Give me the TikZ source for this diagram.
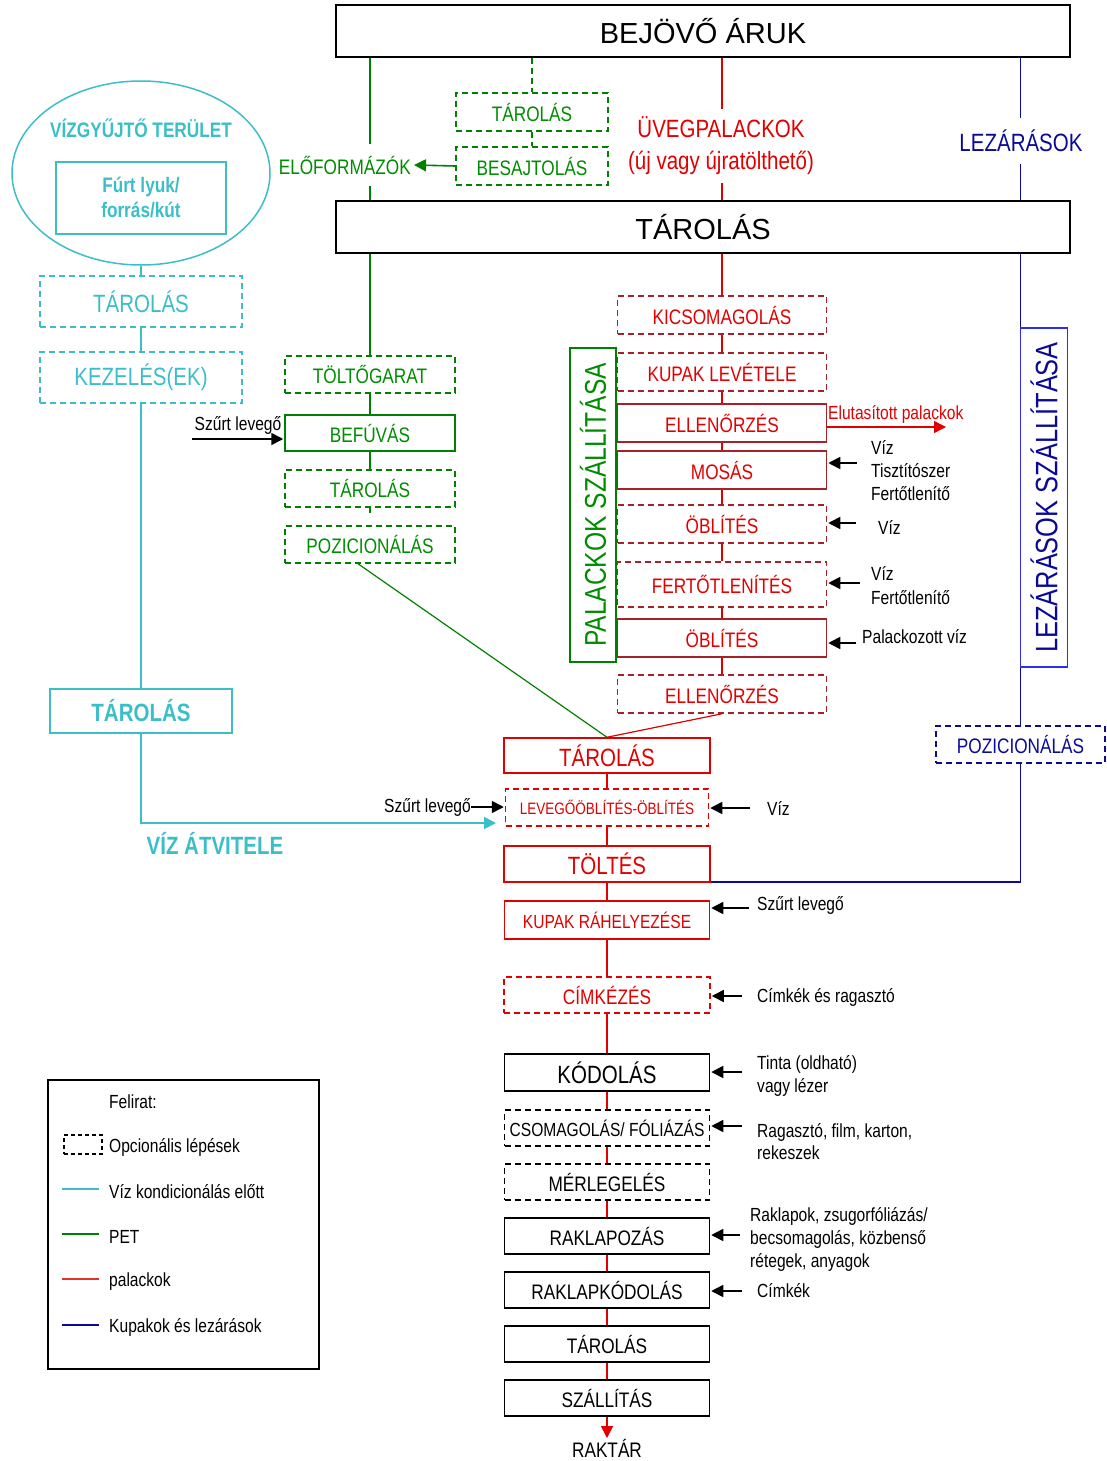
\documentclass[tikz,border=0pt]{standalone}
\usepackage{fontspec}
\setmainfont{Liberation Sans}[FakeStretch=0.82]
\newfontfamily\widefont{Liberation Sans}
\usetikzlibrary{arrows.meta,shapes.geometric,calc}
\definecolor{cy}{RGB}{60,190,200}
\definecolor{gr}{RGB}{0,128,0}
\definecolor{grt}{RGB}{0,140,0}
\definecolor{rd}{RGB}{225,0,0}
\definecolor{drd}{RGB}{165,35,40}
\definecolor{nv}{RGB}{10,10,150}
\definecolor{bb}{RGB}{45,45,240}
\newcommand\fsz[2]{\fontsize{#1}{#2}\selectfont}
\begin{document}
\begin{tikzpicture}[x=1pt,y=-1pt,
  box/.style={draw, line width=1.5pt, inner sep=0pt, font=\fsz{21}{25}},
  dsh/.style={dash pattern=on 6pt off 4pt},
  bigbox/.style={draw=black, line width=2pt, inner sep=0pt, minimum width=734pt, minimum height=52pt, font=\widefont\fsz{29}{33}},
  cbox/.style={box, draw=cy, text=cy},
  gbox/.style={box, draw=gr, text=grt, minimum width=170pt},
  gbox2/.style={box, draw=gr, text=grt, minimum width=152pt, minimum height=38pt},
  pbox/.style={box, draw=drd, text=rd, minimum width=209pt, minimum height=38pt},
  rbox/.style={box, draw=rd, text=rd},
  kbox/.style={box, draw=black, text=black, minimum width=205pt, minimum height=36pt},
  cline/.style={draw=cy, line width=1.5pt},
  gline/.style={draw=gr, line width=1.5pt},
  rline/.style={draw=rd, line width=1.5pt},
  bline/.style={draw=nv, line width=1.5pt},
  tip/.style={-{Triangle[length=12pt,width=12pt]}},
  arr/.style={draw=black, line width=1.6pt, tip, shorten >=1pt},
  lab/.style={inner sep=0pt, text=black, font=\fsz{19}{23}, align=left},
]
\useasboundingbox (0,0) rectangle (1107,1461);

% ---------- top boxes
\node[bigbox] (bej) at (703,31) {BEJÖVŐ ÁRUK};
\node[bigbox] (tar1) at (703,227) {TÁROLÁS};

% ---------- cyan (water) column
\node[ellipse, draw=cy, line width=1.5pt, minimum width=258pt, minimum height=184pt, inner sep=0pt] (ell) at (141,173) {};
\node[inner sep=0pt, text=cy, font=\bfseries\fsz{21}{25}] (vgt) at (141,128) {VÍZGYŰJTŐ TERÜLET};
\node[cbox, minimum width=170pt, minimum height=72pt, align=center, font=\bfseries\fsz{21}{25}] (furt) at (141,198) {Fúrt lyuk/\\forrás/kút};
\node[cbox, dsh, minimum width=202pt, minimum height=51pt, font=\fsz{25}{29}] (tarc1) at (141,301.5) {TÁROLÁS};
\node[cbox, dsh, minimum width=202pt, minimum height=51pt, font=\fsz{25}{29}] (kez) at (141,377.5) {KEZELÉS(EK)};
\node[cbox, minimum width=182pt, minimum height=44pt, font=\bfseries\fsz{25}{29}] (tarc2) at (141,711) {TÁROLÁS};
\node[inner sep=0pt, text=cy, font=\bfseries\fsz{25}{29}] (vat) at (215,843) {VÍZ ÁTVITELE};
\coordinate (vend) at (496,823);

% ---------- green top
\node[gbox2, dsh] (targ1) at (532,112) {TÁROLÁS};
\node[gbox2, dsh] (besa) at (532,166) {BESAJTOLÁS};

% ---------- green column
\node[gbox, dsh, minimum height=37pt] (tolto) at (370,374.5) {TÖLTŐGARAT};
\node[gbox, minimum height=36pt] (befu) at (370,433) {BEFÚVÁS};
\node[gbox, dsh, minimum height=37pt] (targ) at (370,488.5) {TÁROLÁS};
\node[gbox, dsh, minimum height=37pt] (pozg) at (370,544.5) {POZICIONÁLÁS};
\coordinate (stub) at (370,513);

% ---------- bottles column
\node[pbox, dsh] (kics) at (722,315) {KICSOMAGOLÁS};
\node[pbox, dsh] (kupl) at (722,372) {KUPAK LEVÉTELE};
\node[pbox] (ell1) at (722,423) {ELLENŐRZÉS};
\node[pbox] (mos) at (722,470) {MOSÁS};
\node[pbox, dsh] (obl1) at (722,524) {ÖBLÍTÉS};
\node[pbox, dsh, minimum height=45pt] (fert) at (722,584.5) {FERTŐTLENÍTÉS};
\node[pbox] (obl2) at (722,638) {ÖBLÍTÉS};
\node[pbox, dsh] (ell2) at (722,694) {ELLENŐRZÉS};
\node[draw=gr, line width=1.5pt, rotate=90, minimum width=314pt, minimum height=46pt, inner sep=0pt, text=grt, font=\fsz{30}{34}] (pal) at (593,505) {PALACKOK SZÁLLÍTÁSA};

% ---------- closures
\node[box, dsh, draw=nv, text=nv, minimum width=169pt, minimum height=37pt] (pozb) at (1020.5,744.5) {POZICIONÁLÁS};

% ---------- main bottom column
\node[rbox, minimum width=206pt, minimum height=35pt, font=\fsz{25}{29}] (tar2) at (607,755.5) {TÁROLÁS};
\node[rbox, dsh, minimum width=203pt, minimum height=37pt, font=\fsz{16.5}{20}] (lev) at (607,807.5) {LEVEGŐÖBLÍTÉS-ÖBLÍTÉS};
\node[rbox, minimum width=206pt, minimum height=36pt, font=\fsz{25}{29}] (tolt) at (607,864) {TÖLTÉS};
\node[rbox, minimum width=205pt, minimum height=38pt, font=\fsz{19}{23}] (kupr) at (607,920) {KUPAK RÁHELYEZÉSE};
\node[rbox, dsh, minimum width=206pt, minimum height=36pt] (cimk) at (607,995) {CÍMKÉZÉS};
\node[kbox, minimum height=37pt, font=\fsz{25}{29}] (kod) at (607,1072.5) {KÓDOLÁS};
\node[kbox, dsh, font=\fsz{19}{23}] (csom) at (607,1128) {CSOMAGOLÁS/ FÓLIÁZÁS};
\node[kbox, dsh] (merl) at (607,1182) {MÉRLEGELÉS};
\node[kbox] (rakl) at (607,1236) {RAKLAPOZÁS};
\node[kbox] (raklk) at (607,1290) {RAKLAPKÓDOLÁS};
\node[kbox] (tar3) at (607,1344) {TÁROLÁS};
\node[kbox] (szall) at (607,1398) {SZÁLLÍTÁS};
\coordinate (rend) at (607,1438);
\node[inner sep=0pt, font=\fsz{21}{25}] (rakt) at (607,1448) {RAKTÁR};

% ---------- connectors
\draw[gline] (bej.south -| tolto.north) -- (tar1.north -| tolto.north);
\draw[gline, dsh] (bej.south -| targ1.north) -- (targ1.north);
\draw[gline, dsh] (targ1.south) -- (besa.north);
\draw[rline] (bej.south -| kics.north) -- (tar1.north -| kics.north);
\draw[bline] (bej.south -| pozb.north) -- (tar1.north -| pozb.north);
\draw[gline] (tar1.south -| tolto.north) -- (tolto.north);
\draw[gline] (tolto.south) -- (befu.north);
\draw[gline] (befu.south) -- (targ.north);
\draw[gline] (targ.south) -- (stub);
\draw[draw=gr, line width=1.2pt] ([xshift=-12pt]pozg.south) -- (tar2.north);
\draw[rline] (tar1.south -| kics.north) -- (kics.north);
\draw[rline] (kics.south) -- (kupl.north);
\draw[rline] (kupl.south) -- (ell1.north);
\draw[rline] (ell1.south) -- (mos.north);
\draw[rline] (mos.south) -- (obl1.north);
\draw[rline] (obl1.south) -- (fert.north);
\draw[rline] (fert.south) -- (obl2.north);
\draw[rline] (obl2.south) -- (ell2.north);
\draw[draw=rd, line width=1.2pt] (ell2.south) -- (tar2.north);
\draw[bline] (tar1.south -| pozb.north) -- (pozb.north);
\node[draw=bb, line width=1.5pt, rotate=90, minimum width=339pt, minimum height=47pt, inner sep=0pt, text=nv, font=\fsz{31}{35}] (lsz) at (1044,497.5) {LEZÁRÁSOK SZÁLLÍTÁSA};
\draw[bline] (pozb.south) |- ([yshift=1pt]tolt.south east);
\draw[cline] (ell.south) -- (tarc1.north);
\draw[cline] (tarc1.south) -- (kez.north);
\draw[cline] (kez.south) -- (tarc2.north);
\draw[cline, tip] (tarc2.south) |- (vend);
\draw[rline] (tar2.south) -- (lev.north);
\draw[rline] (lev.south) -- (tolt.north);
\draw[rline] (tolt.south) -- (kupr.north);
\draw[rline] (kupr.south) -- (cimk.north);
\draw[rline] (cimk.south) -- (kod.north);
\draw[rline] (kod.south) -- (csom.north);
\draw[rline] (csom.south) -- (merl.north);
\draw[rline] (merl.south) -- (rakl.north);
\draw[rline] (rakl.south) -- (raklk.north);
\draw[rline] (raklk.south) -- (tar3.north);
\draw[rline] (tar3.south) -- (szall.north);
\draw[rline, tip] (szall.south) -- (rend);

% ---------- labels over lines
\node[anchor=east, fill=white, inner xsep=3pt, inner ysep=12pt, text=grt, font=\fsz{21}{25}] (elof) at (414,165) {ELŐFORMÁZÓK};
\draw[draw=gr, line width=1.6pt, tip] (besa.west) -- (elof.east);
\node[fill=white, inner xsep=2pt, inner ysep=8pt, align=center, text=rd, font=\fsz{25}{32}] (uveg) at (721,146) {ÜVEGPALACKOK\\(új vagy újratölthető)};
\node[fill=white, inner xsep=2pt, inner ysep=12pt, text=nv, font=\fsz{25}{29}] (lez) at (1021,141) {LEZÁRÁSOK};

% ---------- side inputs
\node[lab] (szl1) at (238,425) {Szűrt levegő};
\coordinate (t1) at (192,439);
\draw[arr] (t1) -- (t1 -| befu.west);

\coordinate (rej) at (946,427);
\draw[draw=rd, line width=1.5pt, tip] (ell1.east |- rej) -- (rej);
\node[anchor=west, inner sep=0pt, text=rd, font=\fsz{19}{23}] (elut) at (828,414) {Elutasított palackok};

\coordinate (m1) at (857,463);
\draw[arr] (m1) -- (m1 -| mos.east);
\node[lab, anchor=west] (mosl) at (871,471) {Víz\\Tisztítószer\\Fertőtlenítő};
\coordinate (o1) at (856,523);
\draw[arr] (o1) -- (o1 -| obl1.east);
\node[lab, anchor=west] (o1l) at (878,527) {Víz};
\coordinate (f1) at (860,583);
\draw[arr] (f1) -- (f1 -| fert.east);
\node[lab, anchor=west, font=\fsz{19}{24}] (f1l) at (871,586) {Víz\\Fertőtlenítő};
\coordinate (o2) at (856,643);
\draw[arr] (o2) -- (o2 -| obl2.east);
\node[lab, anchor=west] (o2l) at (862,637) {Palackozott víz};

\node[lab, anchor=east] (szl2) at (471,807) {Szűrt levegő};
\draw[arr] (szl2.east) -- (szl2.east -| lev.west);
\coordinate (lv) at (750,808);
\draw[arr] (lv) -- (lv -| lev.east);
\node[lab, anchor=west] (lvl) at (767,808) {Víz};

\coordinate (kr) at (749,908);
\draw[arr] (kr) -- (kr -| kupr.east);
\node[lab, anchor=west] (krl) at (757,905) {Szűrt levegő};

\coordinate (ck) at (742,996);
\draw[arr] (ck) -- (ck -| cimk.east);
\node[lab, anchor=west] (ckl) at (757,997) {Címkék és ragasztó};

\coordinate (kd) at (742,1072);
\draw[arr] (kd) -- (kd -| kod.east);
\node[lab, anchor=west] (kdl) at (757,1075.5) {Tinta (oldható)\\vagy lézer};

\coordinate (cs) at (742,1126);
\draw[arr] (cs) -- (cs -| csom.east);
\node[lab, anchor=west, font=\fsz{19}{22}] (csl) at (757,1142) {Ragasztó, film, karton,\\rekeszek};

\coordinate (rk) at (740,1235);
\draw[arr] (rk) -- (rk -| rakl.east);
\node[lab, anchor=west] (rkl) at (750,1239) {Raklapok, zsugorfóliázás/\\becsomagolás, közbenső\\rétegek, anyagok};

\coordinate (rkk) at (742,1291);
\draw[arr] (rkk) -- (rkk -| raklk.east);
\node[lab, anchor=west] (rkkl) at (757,1291) {Címkék};

% ---------- legend
\node[draw=black, line width=1.5pt, minimum width=271pt, minimum height=289pt, inner sep=0pt] (leg) at (183.5,1224.5) {};
\node[lab, anchor=west] (legt) at (109,1102) {Felirat:};
\node[draw=black, line width=1.2pt, dash pattern=on 4pt off 3pt, minimum width=38pt, minimum height=19pt, inner sep=0pt] (legd) at (83,1144.5) {};
\node[lab, anchor=west] (leg1) at (109,1147) {Opcionális lépések};
\node[lab, anchor=west] (leg2) at (109,1192) {Víz kondicionálás előtt};
\node[lab, anchor=west] (leg3) at (109,1237) {PET};
\node[lab, anchor=west] (leg4) at (109,1282) {palackok};
\node[lab, anchor=west] (leg5) at (109,1327) {Kupakok és lezárások};
\coordinate (lc1) at (62,1189); \coordinate (lc1e) at (99,1189);
\coordinate (lc2) at (62,1234); \coordinate (lc2e) at (99,1234);
\coordinate (lc3) at (62,1279); \coordinate (lc3e) at (99,1279);
\coordinate (lc4) at (62,1325); \coordinate (lc4e) at (99,1325);
\draw[cline, line width=1.2pt] (lc1) -- (lc1e);
\draw[gline, line width=1.2pt] (lc2) -- (lc2e);
\draw[draw={rgb,255:red,225;green,50;blue,50}, line width=1.2pt] (lc3) -- (lc3e);
\draw[bline, line width=1.2pt] (lc4) -- (lc4e);
\end{tikzpicture}
\end{document}
